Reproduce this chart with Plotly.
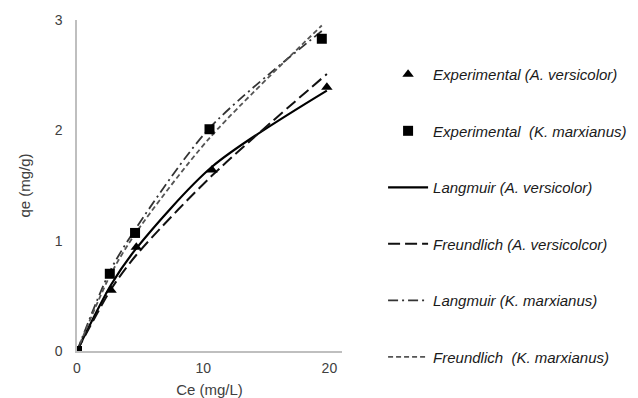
import plotly.graph_objects as go

# Experimental data
ce_av = [0, 2.7, 4.7, 10.7, 19.8]
qe_av = [0, 0.55, 0.94, 1.64, 2.39]
ce_km = [0, 2.6, 4.6, 10.5, 19.4]
qe_km = [0, 0.70, 1.07, 2.01, 2.83]

# Model curves (evaluated at the experimental Ce values)
langmuir_av = [0, 0.60, 0.93, 1.67, 2.36]
freundlich_av = [0, 0.56, 0.87, 1.59, 2.51]
langmuir_km = [0, 0.72, 1.10, 2.02, 2.90]
freundlich_km = [0, 0.68, 1.06, 1.93, 2.95]

x_ticks = [0, 10, 20]
y_ticks = [0, 1, 2, 3]

fig = go.Figure()

line_specs = [
    ("Langmuir (A. versicolor)", ce_av, langmuir_av, "#000000", "solid", 2.2, 3),
    ("Freundlich (A. versicolcor)", ce_av, freundlich_av, "#111111", "12px,5px", 2.0, 4),
    ("Langmuir (K. marxianus)", ce_km, langmuir_km, "#333333", "10px,4px,2px,4px", 1.8, 5),
    ("Freundlich  (K. marxianus)", ce_km, freundlich_km, "#555555", "5px,3px", 1.8, 6),
]
for name, xs, ys, col, dash, w, rank in line_specs:
    fig.add_trace(go.Scatter(
        x=xs, y=ys, mode="lines", name=name,
        line=dict(color=col, dash=dash, width=w, shape="spline", smoothing=0.8),
        legendgroup=name, legendrank=rank,
    ))

fig.add_trace(go.Scatter(
    x=ce_av, y=qe_av, mode="markers", name="Experimental (A. versicolor)",
    marker=dict(symbol="triangle-up", size=10, color="#000000"),
    legendgroup="expA", legendrank=1,
))
fig.add_trace(go.Scatter(
    x=ce_km, y=qe_km, mode="markers", name="Experimental  (K. marxianus)",
    marker=dict(symbol="square", size=10, color="#000000"),
    legendgroup="expK", legendrank=2,
))

fig.update_layout(
    width=630, height=390,
    margin=dict(l=69, r=296, t=12, b=47, autoexpand=False),
    paper_bgcolor="white", plot_bgcolor="white",
    font=dict(family="Liberation Sans, Arial, sans-serif", size=14, color="#404040"),
    showlegend=True,
    legend=dict(
        x=1.155, xanchor="left", y=0.885, yanchor="top",
        itemwidth=40, tracegroupgap=34, maxheight=390,
        font=dict(family="Liberation Sans, Arial, sans-serif", size=15, color="#1a1a1a", style="italic"),
        bgcolor="rgba(0,0,0,0)", itemclick=False,
    ),
    xaxis=dict(
        range=[0, 21], tickvals=x_ticks, ticktext=[str(v) for v in x_ticks],
        showgrid=False, zeroline=False, showline=True, linecolor="#bfbfbf", linewidth=1.5,
        ticks="", ticklabelstandoff=3, tickfont=dict(size=14),
        title=dict(text="Ce (mg/L)", standoff=10, font=dict(size=15, color="#404040")),
    ),
    yaxis=dict(
        range=[0, 3], tickvals=y_ticks, ticktext=[str(v) for v in y_ticks],
        showgrid=False, zeroline=False, showline=True, linecolor="#bfbfbf", linewidth=1.5,
        ticks="", ticklabelstandoff=10, tickfont=dict(size=14),
        title=dict(text="qe (mg/g)", standoff=20, font=dict(size=15, color="#404040")),
    ),
)

fig.write_html("out.html")
